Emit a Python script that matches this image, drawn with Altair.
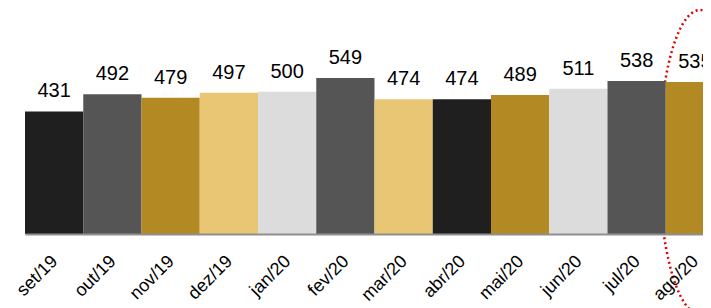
import json
import altair as alt
import pandas as pd

months = ["set/19", "out/19", "nov/19", "dez/19", "jan/20", "fev/20",
          "mar/20", "abr/20", "mai/20", "jun/20", "jul/20", "ago/20"]
values = [431, 492, 479, 497, 500, 549, 474, 474, 489, 511, 538, 535]
bar_colors = ["#1f1f1f", "#555555", "#b38924", "#e8c674", "#dcdcdc", "#555555",
              "#e8c674", "#1f1f1f", "#b38924", "#dcdcdc", "#555555", "#b38924"]
title_text = "NÚMERO DE FUNCIONÁRIOS ATIVOS"
highlight_month = "ago/20"
highlight_center = 253

idx = list(range(len(months)))
df = pd.DataFrame({
    "mes": months, "valor": values,
    "i0": idx, "i1": [i + 1 for i in idx], "mid": [i + 0.5 for i in idx],
})
hi = months.index(highlight_month)
hl = pd.DataFrame({"mes": [highlight_month], "mid": [hi + 0.5], "valor": [highlight_center]})

FONT = "Liberation Sans"
W = 678          # visible plot width (chart is cut at the right edge)
STEP = 58.25     # width of one month slot
x_scale = alt.Scale(domain=[0, W / STEP], nice=False, zero=False)
y_scale = alt.Scale(domain=[0, 795], nice=False, zero=True)

label_expr = f"{json.dumps(months, ensure_ascii=False)}[round(datum.value - 0.5)]"
x_axis = alt.Axis(title=None, values=[i + 0.5 for i in idx], labelExpr=label_expr,
                  labelAngle=-45, labelAlign="right", labelBaseline="top",
                  labelFontSize=18, labelFont=FONT, labelOffset=-6,
                  labelColor="#000000", ticks=False, tickSize=0, grid=False,
                  labelPadding=18, domainColor="#8f8f8f", domainWidth=2,
                  zindex=1, labelOverlap=False, labelBound=False, labelFlush=False)
y_enc = alt.Y("valor:Q", scale=y_scale, axis=None)

# dotted red ellipse (custom symbol path, units of 152 px)
rx = 41 / 152
k = 0.5523
ell = (f"M {-rx} 0 C {-rx} {-k} {-k*rx} -1 0 -1 "
       f"C {k*rx} -1 {rx} {-k} {rx} 0 "
       f"C {rx} {k} {k*rx} 1 0 1 "
       f"C {-k*rx} 1 {-rx} {k} {-rx} 0 Z")

ellipse = alt.Chart(hl).mark_point(
    shape=ell, size=(2 * 152) ** 2, filled=False, stroke="#e00000",
    strokeWidth=2.5, strokeDash=[2, 3], opacity=1, xOffset=5
).encode(x=alt.X("mid:Q", scale=x_scale, axis=x_axis), y=y_enc)

bars = alt.Chart(df).mark_bar().encode(
    x=alt.X("i0:Q", scale=x_scale, axis=x_axis), x2="i1:Q",
    y=y_enc, y2=alt.datum(0),
    color=alt.Color("mes:N", scale=alt.Scale(domain=months, range=bar_colors), legend=None),
)

labels = alt.Chart(df).mark_text(
    fontSize=20, font=FONT, color="#000000", dy=-14, baseline="alphabetic"
).encode(x=alt.X("mid:Q", scale=x_scale, axis=x_axis), y=y_enc, text=alt.Text("valor:Q"))

chart = alt.layer(ellipse, bars, labels).properties(
    width=W, height=226,
    title=alt.TitleParams(title_text, fontSize=20, font=FONT, fontWeight="bold"),
    autosize=alt.AutoSizeParams(type="none"),
    padding={"left": 17, "top": 0, "right": 0, "bottom": 74},
).configure_view(stroke=None)

chart.save("out.html", embed_options={"renderer": "svg", "actions": False})
